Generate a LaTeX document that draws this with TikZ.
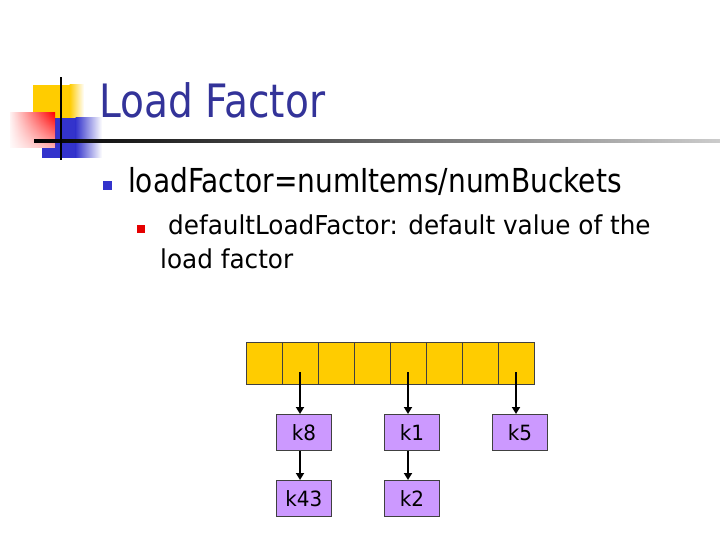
\documentclass[tikz,border=0pt]{standalone}
\usepackage{fontspec}
\setmainfont{DejaVu Sans}
\newfontfamily\slidefont[FakeStretch=0.85]{DejaVu Sans}
\newfontfamily\subfont[FakeStretch=0.95]{DejaVu Sans}
\usetikzlibrary{arrows.meta,fadings}
\definecolor{titleblue}{RGB}{51,51,153}
\definecolor{cellyellow}{RGB}{255,204,0}
\definecolor{keypurple}{RGB}{204,153,255}
\definecolor{bulletblue}{RGB}{51,51,204}
\tikzset{
  cell/.style={draw=black!75, line width=0.8pt, fill=cellyellow, minimum width=36pt, minimum height=42pt, inner sep=0pt, anchor=north west},
  keybox/.style={draw=black!75, line width=0.8pt, fill=keypurple, minimum width=55pt, minimum height=36pt, inner sep=0pt, anchor=north west, font=\subfont\fontsize{21}{21}\selectfont},
  link/.style={line width=2pt, -{Triangle[length=7pt,width=8pt]}},
  txt/.style={anchor=base west, inner sep=0pt, font=\slidefont}
}
\begin{document}
\begin{tikzpicture}[x=1pt,y=-1pt]
\useasboundingbox (0,0) rectangle (720,540);
% decoration
\fill[cellyellow] (33,85) rectangle (70,120);
\shade[left color=cellyellow, right color=white] (69.5,85) rectangle (84,120);
\fill[bulletblue] (42,118) rectangle (76,158);
\shade[left color=bulletblue, right color=white] (75.5,118) rectangle (102,158);
\shade[left color=red!5, right color=red] (10,113) rectangle (55,148);
\fill[white, opacity=0.7, path fading=north] (10,113) rectangle (55,148);
\shade[left color=black, right color=black!20] (34,139.5) rectangle (720,142.5);
\fill[black] (59.8,77) rectangle (62.2,160);
% title
\node[txt, font=\slidefont\fontsize{46}{46}\selectfont, text=titleblue] (title) at (99,118) {Load Factor};
% bullets
\node[fill=bulletblue, minimum size=9pt, inner sep=0pt] (b1) at (107.5,185.5) {};
\node[txt, font=\slidefont\fontsize{33}{33}\selectfont] (l1) at (128,193) {loadFactor=numItems/numBuckets};
\node[fill=red!90!black, minimum size=8pt, inner sep=0pt] (b2) at (141,229) {};
\node[txt, font=\subfont\fontsize{26}{26}\selectfont] (l2) at (168,235) {defaultLoadFactor: default value of the};
\node[txt, font=\subfont\fontsize{26}{26}\selectfont] (l3) at (160,268) {load factor};
% array
\foreach \i in {0,...,7} {
  \node[cell] (c\i) at (246+36*\i,342) {};
}
% keys
\node[keybox] (k8) at (276,414) {k8};
\node[keybox] (k1) at (384,414) {k1};
\node[keybox] (k5) at (492,414) {k5};
\node[keybox] (k43) at (276,480) {k43};
\node[keybox] (k2) at (384,480) {k2};
% links
\coordinate (s1) at (300,372);
\coordinate (s4) at (408,372);
\coordinate (s7) at (516,372);
\draw[link] (s1) -- (s1 |- k8.north);
\draw[link] (s4) -- (s4 |- k1.north);
\draw[link] (s7) -- (s7 |- k5.north);
\draw[link] (k8.south -| s1) -- (s1 |- k43.north);
\draw[link] (k1.south -| s4) -- (s4 |- k2.north);
\end{tikzpicture}
\end{document}
